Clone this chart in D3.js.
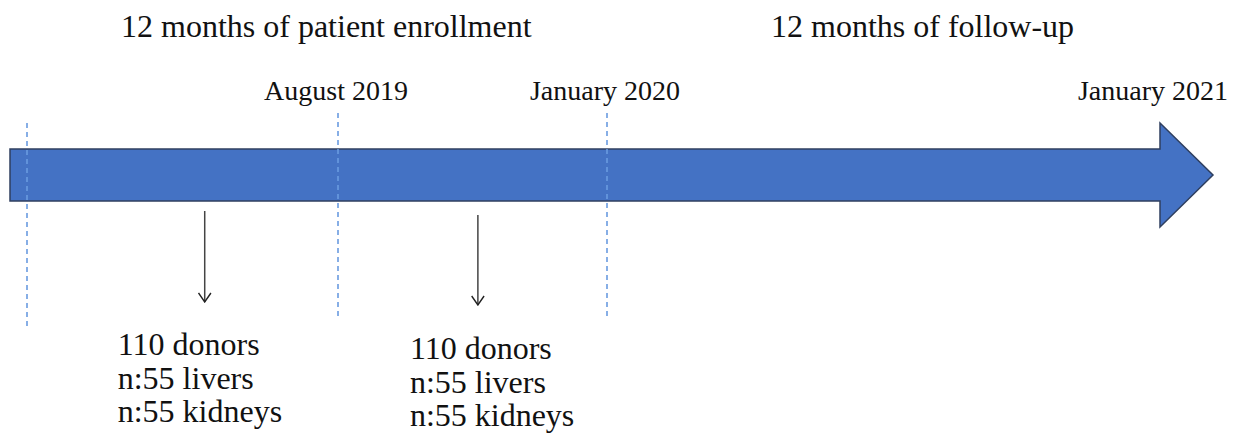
<!DOCTYPE html>
<html>
<head>
<meta charset="utf-8">
<script src="https://cdn.jsdelivr.net/npm/d3@7"></script>
<style>
  body { margin: 0; background: #fff; }
  text { font-family: "Liberation Serif", "Times New Roman", serif; fill: #111; }
</style>
</head>
<body>
<div id="chart"></div>
<script>
// Timeline data (months counted from the start of enrollment)
const phases = ["12 months of patient enrollment", "12 months of follow-up"];
const phaseMonths = [0, 12];
const milestones = ["", "August 2019", "January 2020", "January 2021"];
const milestoneMonths = [0, 7, 12, 24];
const cohortMonths = [4, 9.6];
const cohortLines = [
  ["110 donors", "n:55 livers", "n:55 kidneys"],
  ["110 donors", "n:55 livers", "n:55 kidneys"]
];

const width = 1237, height = 443;

const svg = d3.select("#chart")
  .append("svg")
  .attr("width", width)
  .attr("height", height);

// the picture is not to scale, so use a piecewise scale per segment
const x = d3.scaleLinear()
  .domain([0, 7, 12, 24])
  .range([27, 338, 607, 1213]);

// main arrow
const barTop = 149, barBottom = 201, headTop = 123, headBottom = 227;
const shaftEnd = 1160, barStart = 10;
const mid = (barTop + barBottom) / 2;
const arrowPath = d3.path();
arrowPath.moveTo(barStart, barTop);
arrowPath.lineTo(shaftEnd, barTop);
arrowPath.lineTo(shaftEnd, headTop);
arrowPath.lineTo(x(24), mid);
arrowPath.lineTo(shaftEnd, headBottom);
arrowPath.lineTo(shaftEnd, barBottom);
arrowPath.lineTo(barStart, barBottom);
arrowPath.closePath();

svg.append("path")
  .attr("d", arrowPath.toString())
  .attr("fill", "#4472C4")
  .attr("stroke", "#2F3F5F")
  .attr("stroke-width", 1.5);

// dashed milestone lines (not for the arrow tip)
svg.selectAll(".mline")
  .data(milestoneMonths.slice(0, 3))
  .enter()
  .append("line")
  .attr("class", "mline")
  .attr("x1", d => x(d))
  .attr("x2", d => x(d))
  .attr("y1", (d, i) => i === 0 ? 123 : 113)
  .attr("y2", (d, i) => i === 0 ? 328 : 318)
  .attr("stroke", "#6A9BE0")
  .attr("stroke-width", 1.6)
  .attr("stroke-dasharray", "5,4");

// milestone labels
svg.selectAll(".mlabel")
  .data(milestones.map((m, i) => ({ label: m, month: milestoneMonths[i] })).filter(d => d.label))
  .enter()
  .append("text")
  .attr("class", "mlabel")
  .attr("x", d => d.month === 24 ? x(d.month) + 15 : x(d.month) - 2)
  .attr("y", 100)
  .attr("text-anchor", d => d.month === 24 ? "end" : "middle")
  .attr("font-size", 28)
  .text(d => d.label);

// phase titles
svg.selectAll(".phase")
  .data(phases)
  .enter()
  .append("text")
  .attr("class", "phase")
  .attr("x", (d, i) => i === 0 ? 121 : 771)
  .attr("y", 37)
  .attr("font-size", 32)
  .text(d => d);

// arrow marker for cohort pointers
svg.append("defs").append("marker")
  .attr("id", "head")
  .attr("viewBox", "0 0 14 14")
  .attr("refX", 7).attr("refY", 13)
  .attr("markerWidth", 14).attr("markerHeight", 14)
  .attr("markerUnits", "userSpaceOnUse")
  .attr("orient", "0")
  .append("path")
  .attr("d", "M0.8,4 L7,13 L13.2,4")
  .attr("fill", "none")
  .attr("stroke", "#222")
  .attr("stroke-width", 1.4);

const cohortTop = [211, 215], cohortBottom = [302, 305];
svg.selectAll(".pointer")
  .data(cohortMonths)
  .enter()
  .append("line")
  .attr("class", "pointer")
  .attr("x1", d => x(d))
  .attr("x2", d => x(d))
  .attr("y1", (d, i) => cohortTop[i])
  .attr("y2", (d, i) => cohortBottom[i])
  .attr("stroke", "#444")
  .attr("stroke-width", 1.5)
  .attr("marker-end", "url(#head)");

// cohort text blocks
const textOffset = [87, 68], textBase = [355, 359], lineGap = 33.5;
const blocks = svg.selectAll(".cohort")
  .data(cohortLines)
  .enter()
  .append("text")
  .attr("class", "cohort")
  .attr("font-size", 32);

blocks.selectAll("tspan")
  .data((d, i) => d.map((t, j) => ({ t, j, i })))
  .enter()
  .append("tspan")
  .attr("x", d => x(cohortMonths[d.i]) - textOffset[d.i])
  .attr("y", d => textBase[d.i] + d.j * lineGap)
  .text(d => d.t);
</script>
</body>
</html>
